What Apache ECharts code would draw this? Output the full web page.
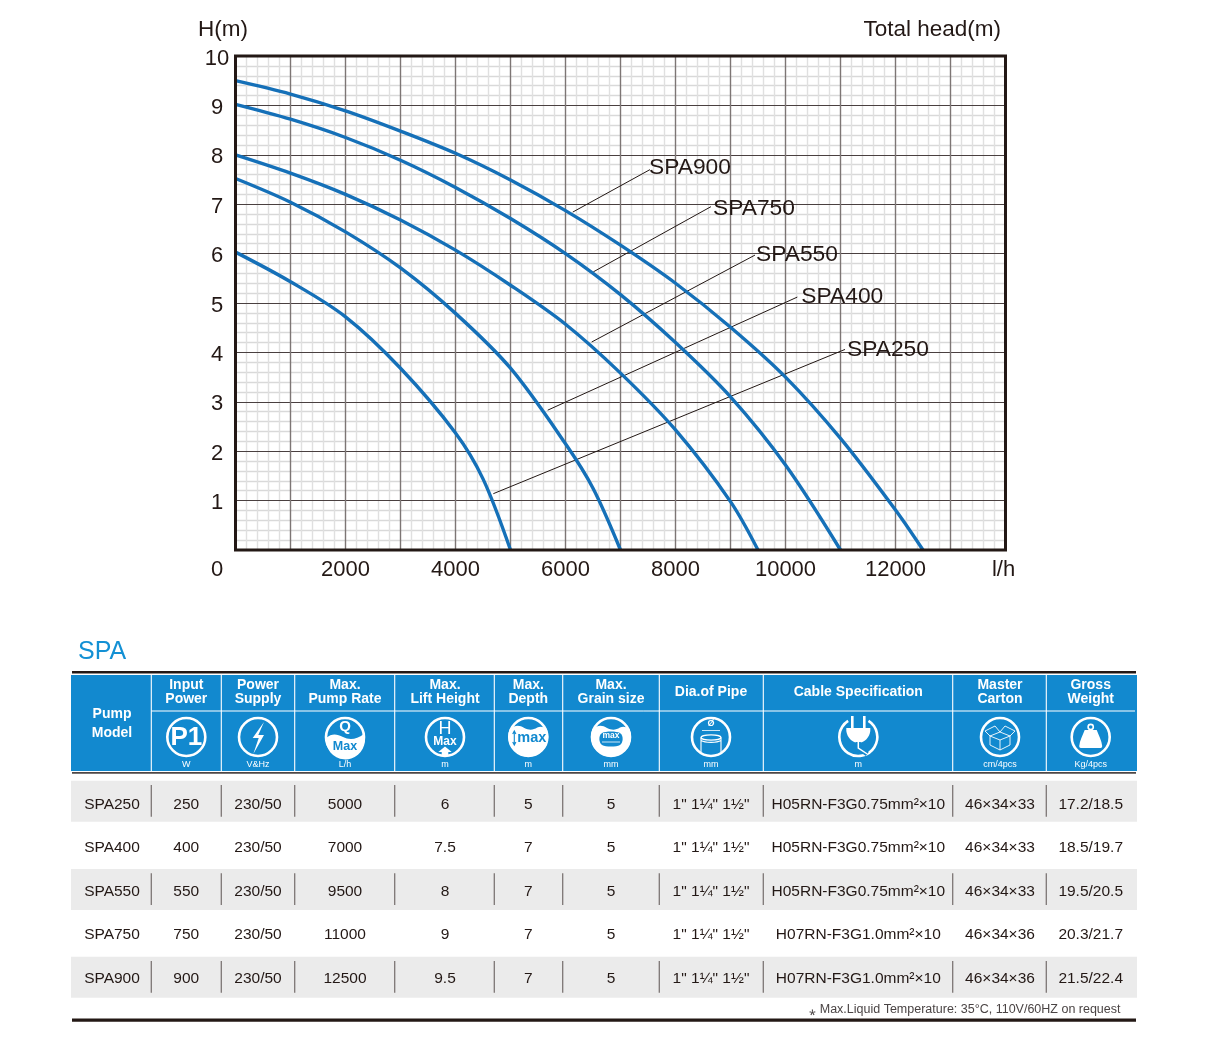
<!DOCTYPE html>
<html lang="en">

<head>
    <meta charset="UTF-8">
    <title>SPA pump curves</title>
    <script src="https://cdn.jsdelivr.net/npm/echarts@6/dist/echarts.min.js"></script>
    <style>
        body {
            margin: 0;
            padding: 0;
            background: #fff;
        }
    </style>
</head>

<body>
    <div id="chart" style="width:1209px;height:1040px;"></div>
    <script>
        // curve readings: flow in l/h, head in m
        var spa250Flow = [0, 1000, 2000, 3000, 4000, 4500, 5000];
        var spa250Head = [6.03, 5.43, 4.72, 3.68, 2.37, 1.44, 0];
        var spa400Flow = [0, 1000, 2000, 3000, 4000, 5000, 6000, 6500, 7000];
        var spa400Head = [7.52, 7.04, 6.44, 5.71, 4.79, 3.68, 2.15, 1.25, 0];
        var spa550Flow = [0, 1000, 2000, 3000, 4000, 5000, 6000, 7000, 8000, 9000, 9500];
        var spa550Head = [8, 7.63, 7.2, 6.68, 6.07, 5.36, 4.57, 3.58, 2.43, 0.98, 0];
        var spa750Flow = [0, 1000, 2000, 3000, 4000, 5000, 6000, 7000, 8000, 9000, 10000, 11000];
        var spa750Head = [9.02, 8.72, 8.35, 7.89, 7.34, 6.71, 6, 5.17, 4.2, 3.1, 1.72, 0];
        var spa900Flow = [0, 1000, 2000, 3000, 4000, 5000, 6000, 7000, 8000, 9000, 10000, 11000, 12000, 12500];
        var spa900Head = [9.5, 9.23, 8.89, 8.48, 8.03, 7.49, 6.87, 6.17, 5.4, 4.51, 3.5, 2.26, 0.81, 0];

        var curveNames = ['SPA250', 'SPA400', 'SPA550', 'SPA750', 'SPA900'];
        var curveFlows = [spa250Flow, spa400Flow, spa550Flow, spa750Flow, spa900Flow];
        var curveHeads = [spa250Head, spa400Head, spa550Head, spa750Head, spa900Head];

        // leader lines from a curve out to its name
        var leaderFlows = [[4688, 11082], [5676, 10215], [6476, 9445], [6505, 8645], [6131, 7536]];
        var leaderHeads = [[1.14, 4.06], [2.83, 5.12], [4.21, 5.97], [5.63, 6.95], [6.84, 7.7]];

        var xTickLabels = [2000, 4000, 6000, 8000, 10000, 12000];
        var yTickLabels = [1, 2, 3, 4, 5, 6, 7, 8, 9, 10];

        // table
        var pumpModels = ['SPA250', 'SPA400', 'SPA550', 'SPA750', 'SPA900'];
        var inputPower = ['250', '400', '550', '750', '900'];
        var powerSupply = ['230/50', '230/50', '230/50', '230/50', '230/50'];
        var pumpRate = ['5000', '7000', '9500', '11000', '12500'];
        var liftHeight = ['6', '7.5', '8', '9', '9.5'];
        var maxDepth = ['5', '7', '7', '7', '7'];
        var grainSize = ['5', '5', '5', '5', '5'];
        var pipeDia = ['1" 1¼" 1½"', '1" 1¼" 1½"', '1" 1¼" 1½"', '1" 1¼" 1½"', '1" 1¼" 1½"'];
        var cableSpec = ['H05RN-F3G0.75mm²×10', 'H05RN-F3G0.75mm²×10', 'H05RN-F3G0.75mm²×10', 'H07RN-F3G1.0mm²×10', 'H07RN-F3G1.0mm²×10'];
        var masterCarton = ['46×34×33', '46×34×33', '46×34×33', '46×34×36', '46×34×36'];
        var grossWeight = ['17.2/18.5', '18.5/19.7', '19.5/20.5', '20.3/21.7', '21.5/22.4'];

        var tableColumns = [pumpModels, inputPower, powerSupply, pumpRate, liftHeight, maxDepth, grainSize, pipeDia, cableSpec, masterCarton, grossWeight];
        var headerLines = [['Pump', 'Model'], ['Input', 'Power'], ['Power', 'Supply'], ['Max.', 'Pump Rate'], ['Max.', 'Lift Height'], ['Max.', 'Depth'], ['Max.', 'Grain size'], ['Dia.of Pipe'], ['Cable Specification'], ['Master', 'Carton'], ['Gross', 'Weight']];
        var headerUnits = ['', 'W', 'V&Hz', 'L/h', 'm', 'm', 'mm', 'mm', 'm', 'cm/4pcs', 'Kg/4pcs'];
        var footNote = '⁎ Max.Liquid Temperature: 35°C, 110V/60HZ on request';

        // layout
        var plotLeft = 235.5, plotTop = 56, plotWidth = 770, plotHeight = 494;
        var colCenters = [112, 186.3, 258, 345, 445, 528.3, 611, 711, 858.3, 1000, 1090.7];
        var colLines = [151.3, 221.3, 294.7, 394.7, 494.3, 562.7, 659.3, 763.3, 952.7, 1046.3];
        var rowCenters = [805, 848, 891.4, 935, 979];
        var bandTops = [780.7, 869, 956.7];
        var labelOffsets = [[2, 0], [4, 0], [1, 0], [2, 2], [-1, -2]];

        var inkColor = '#231815';
        var blue = '#1289cf';
        var white = '#fff';
        var fontName = '"Liberation Sans", Arial, sans-serif';

        function txt(str, x, y, size, color, bold, align) {
            return {
                type: 'text',
                silent: true,
                style: {
                    text: str,
                    x: x,
                    y: y,
                    fill: color,
                    font: (bold ? 'bold ' : '') + size + 'px ' + fontName,
                    align: align || 'center',
                    verticalAlign: 'middle'
                }
            };
        }

        function box(x, y, w, h, color) {
            return { type: 'rect', silent: true, shape: { x: x, y: y, width: w, height: h }, style: { fill: color } };
        }

        function seg(x1, y1, x2, y2, color, width) {
            return { type: 'line', silent: true, shape: { x1: x1, y1: y1, x2: x2, y2: y2 }, style: { stroke: color, lineWidth: width } };
        }

        function ring(cx, cy) {
            return { type: 'circle', silent: true, shape: { cx: cx, cy: cy, r: 19 }, style: { fill: 'none', stroke: white, lineWidth: 2.6 } };
        }

        // graphic has no plain path element, so each svg path gets its own registered shape
        var glyphCount = 0;

        // path given relative to the icon centre
        function glyph(d, cx, cy, fill, stroke, width) {
            var shapeName = 'glyph' + (glyphCount++);
            echarts.graphic.registerShape(shapeName, echarts.graphic.extendPath(d));
            return {
                type: shapeName,
                silent: true,
                x: cx,
                y: cy,
                style: { fill: fill || 'none', stroke: stroke || 'none', lineWidth: width || 1 }
            };
        }

        // white water body under a wavy surface, used by two icons
        var waterPath = 'M-18.5,-8 C-13,-12 -9,-12 -4,-9 C1,-6.5 5,-7 9,-9.5 C12,-11 15,-10.5 18.5,-8 A20,20 0 1 1 -18.5,-8 Z';

        function tableGraphics() {
            var els = [];
            els.push(txt('SPA', 78, 652, 25, '#1390d4', false, 'left'));
            els.push(box(72, 671, 1064, 2.6, inkColor));
            els.push(box(71, 675, 1066, 96, blue));
            els.push(box(72, 772, 1064, 1.8, '#4d4746'));
            els.push(seg(151.3, 711, 1135, 711, white, 1));
            colLines.forEach(function (x) {
                els.push(seg(x, 675, x, 771, white, 1.1));
            });

            // header text
            headerLines.forEach(function (lines, c) {
                var cx = colCenters[c];
                if (lines.length == 1) {
                    els.push(txt(lines[0], cx, 692, 14, white, true));
                } else if (c == 0) {
                    els.push(txt(lines[0], cx, 714, 14, white, true));
                    els.push(txt(lines[1], cx, 733, 14, white, true));
                } else {
                    els.push(txt(lines[0], cx, 685.3, 14, white, true));
                    els.push(txt(lines[1], cx, 699.3, 14, white, true));
                }
                if (headerUnits[c]) {
                    els.push(txt(headerUnits[c], cx, 765, 9, white, false));
                }
            });

            var iy = 737;
            var cx = colCenters[1];
            // P1
            els.push(ring(cx, iy));
            els.push(txt('P1', cx, iy + 1, 26, white, true));
            // supply
            cx = colCenters[2];
            els.push(ring(cx, iy));
            els.push(glyph('M6,-15 L-5.3,1 L0.7,1 L-4.7,17 L6,-2 L0.3,-2 Z', cx, iy, white));
            // pump rate
            cx = colCenters[3];
            els.push(ring(cx, iy));
            els.push(glyph('M-19,1 C-13,-4 -8,-3 -2,0 C4,3 11,3 19,-3 A19.5,19.5 0 1 1 -19,1 Z', cx, iy, white));
            els.push(txt('Q', cx, iy - 10, 15, white, true));
            els.push(txt('Max', cx, iy + 9.5, 12.5, blue, true));
            // lift height
            cx = colCenters[4];
            els.push(ring(cx, iy));
            els.push(txt('H', cx, iy - 8, 18, white, false));
            els.push(txt('Max', cx, iy + 4.8, 12, white, true));
            els.push(glyph('M0,9.5 L-6.7,15 L-3.3,15 L-3.3,19 L3.3,19 L3.3,15 L6.7,15 Z', cx, iy, white));
            // depth
            cx = colCenters[5];
            els.push(ring(cx, iy));
            els.push(glyph(waterPath, cx, iy, white));
            els.push(txt('max', cx + 3.5, iy + 1, 14.5, blue, true));
            els.push(glyph('M-14,-5 L-14,7 M-15.6,-3 L-14,-6 L-12.4,-3 M-15.6,5 L-14,8 L-12.4,5', cx, iy, 'none', blue, 1.1));
            // grain size
            cx = colCenters[6];
            els.push(ring(cx, iy));
            els.push(glyph(waterPath, cx, iy, white));
            els.push(glyph('M-9,-5 C-5,-7 5,-7 9,-5 C13,-2 12,5 9,7 C5,9 -5,9 -9,7 C-12,5 -13,-2 -9,-5 Z', cx, iy + 1, blue));
            els.push(txt('max', cx, iy - 1.5, 8.5, white, true));
            els.push(seg(cx - 9, iy + 5, cx + 9, iy + 5, white, 0.8));
            // pipe
            cx = colCenters[7];
            els.push(ring(cx, iy));
            els.push(txt('Ø', cx, iy - 13.5, 9, white, true));
            els.push(seg(cx - 9, iy - 6.5, cx + 9, iy - 6.5, white, 0.8));
            els.push({ type: 'ellipse', silent: true, shape: { cx: cx, cy: iy + 0.5, rx: 10, ry: 2.6 }, style: { fill: 'none', stroke: white, lineWidth: 1.2 } });
            els.push(glyph('M-10,0.5 L-10,15 M10,0.5 L10,15 M-10,3.5 C-6,6 6,6 10,3.5', cx, iy, 'none', white, 1.1));
            // cable
            cx = colCenters[8];
            els.push({ type: 'arc', silent: true, shape: { cx: cx, cy: iy, r: 19, startAngle: -Math.PI * 0.32, endAngle: -Math.PI * 0.68, clockwise: true }, style: { fill: 'none', stroke: white, lineWidth: 2.6 } });
            els.push(glyph('M-7,-21 L-7,-9 M5,-21 L5,-9', cx + 1, iy, 'none', white, 2.6));
            els.push(glyph('M-12,-9 L12,-9 L12,-6 C11,1 6,5 2,5.5 L-2,5.5 C-6,5 -11,1 -12,-6 Z', cx, iy, white));
            els.push(glyph('M0,5 L0,11 L9,17', cx, iy, 'none', blue, 5));
            els.push(glyph('M0,5 L0,11 L9,17', cx, iy, 'none', white, 1.5));
            // carton
            cx = colCenters[9];
            els.push(ring(cx, iy));
            els.push(glyph('M-10,-1 L-10,8 L0,13 L10,8 L10,-1 M0,3 L0,13 M-10,-1 L0,3 L10,-1 L0,-5 Z M-10,-1 L-15,-6 L-5,-11 L0,-5 L5,-11 L15,-6 L10,-1', cx, iy, 'none', white, 0.9));
            // weight
            cx = colCenters[10];
            els.push(ring(cx, iy));
            els.push(glyph('M-6,-7 L6,-7 C8,-2 11,4 11.5,9 C11.5,11 10,11 9,11 L-9,11 C-10,11 -11.5,11 -11.5,9 C-11,4 -8,-2 -6,-7 Z', cx, iy, white));
            els.push({ type: 'circle', silent: true, shape: { cx: cx, cy: iy - 10, r: 2.6 }, style: { fill: 'none', stroke: white, lineWidth: 1.6 } });

            // grey bands and their separators
            bandTops.forEach(function (top) {
                els.push(box(71, top, 1066, 41, '#ebebeb'));
                colLines.forEach(function (x) {
                    els.push(seg(x, top + 4.3, x, top + 36, '#7d7675', 1.3));
                });
            });

            // body rows
            rowCenters.forEach(function (rowY, r) {
                tableColumns.forEach(function (col, c) {
                    els.push(txt(col[r], colCenters[c], rowY, 15.5, inkColor, false));
                });
            });

            els.push(txt(footNote, 1120.5, 1009.5, 12.5, '#4a4444', false, 'right'));
            els.push(box(72, 1018.5, 1064, 3.2, inkColor));
            return els;
        }

        // frame goes above the grid lines so they do not nick it
        var plotFrame = {
            type: 'rect',
            silent: true,
            z: 10,
            shape: { x: plotLeft, y: plotTop, width: plotWidth, height: plotHeight },
            style: { fill: 'none', stroke: inkColor, lineWidth: 3 }
        };

        var axisGraphics = [
            plotFrame,
            txt('H(m)', 198, 30, 22.5, inkColor, false, 'left'),
            txt('Total head(m)', 1001, 30, 22.5, inkColor, false, 'right'),
            txt('0', 217, 570, 22, inkColor, false),
            txt('l/h', 1003.5, 570, 22, inkColor, false)
        ];

        var series = [];
        curveNames.forEach(function (name, i) {
            series.push({
                name: name + ' leader',
                type: 'line',
                silent: true,
                showSymbol: false,
                z: 3,
                lineStyle: { color: inkColor, width: 1 },
                data: leaderFlows[i].map(function (f, k) { return [f, leaderHeads[i][k]]; }),
                endLabel: {
                    show: true,
                    formatter: name,
                    fontSize: 22.8,
                    fontFamily: fontName,
                    color: inkColor,
                    distance: 0,
                    offset: labelOffsets[i]
                }
            });
        });
        curveNames.forEach(function (name, i) {
            series.push({
                name: name,
                type: 'line',
                silent: true,
                smooth: 0.33,
                showSymbol: false,
                z: 4,
                lineStyle: { color: '#1570b8', width: 3.4 },
                data: curveFlows[i].map(function (f, k) { return [f, curveHeads[i][k]]; })
            });
        });

        var myChart = echarts.init(document.getElementById('chart'));
        myChart.setOption({
            animation: false,
            grid: {
                show: true,
                left: plotLeft,
                top: plotTop,
                width: plotWidth,
                height: plotHeight,
                backgroundColor: '#fff',
                borderWidth: 0
            },
            // second axis of each pair only draws the light minor lines, under the major ones
            xAxis: [{
                type: 'value',
                min: 0,
                max: 14000,
                interval: 1000,
                z: 2,
                axisLine: { show: false },
                axisTick: { show: false },
                axisLabel: {
                    fontSize: 22,
                    fontFamily: fontName,
                    color: inkColor,
                    margin: 9,
                    formatter: function (v) {
                        return xTickLabels.indexOf(v) >= 0 ? String(v) : '';
                    }
                },
                splitLine: { show: true, showMinLine: false, showMaxLine: false, lineStyle: { color: '#7d7675', width: 1.4 } }
            }, {
                type: 'value',
                position: 'bottom',
                min: 0,
                max: 14000,
                interval: 1000,
                z: 1,
                axisLine: { show: false },
                axisTick: { show: false },
                axisLabel: { show: false },
                splitLine: { show: false },
                minorTick: { show: false, splitNumber: 5 },
                minorSplitLine: { show: true, lineStyle: { color: '#e0e0e0', width: 1.4 } }
            }],
            yAxis: [{
                type: 'value',
                min: 0,
                max: 10,
                interval: 1,
                z: 2,
                axisLine: { show: false },
                axisTick: { show: false },
                axisLabel: {
                    fontSize: 22,
                    fontFamily: fontName,
                    color: inkColor,
                    margin: 18.5,
                    align: 'center',
                    verticalAlign: 'top',
                    lineHeight: 5,
                    formatter: function (v) {
                        return yTickLabels.indexOf(v) >= 0 ? String(v) : '';
                    }
                },
                splitLine: { show: true, showMinLine: false, showMaxLine: false, lineStyle: { color: '#4a4040', width: 1 } }
            }, {
                type: 'value',
                position: 'left',
                min: 0,
                max: 10,
                interval: 1,
                z: 1,
                axisLine: { show: false },
                axisTick: { show: false },
                axisLabel: { show: false },
                splitLine: { show: false },
                minorTick: { show: false, splitNumber: 5 },
                minorSplitLine: { show: true, lineStyle: { color: '#d9d9d9', width: 1.4 } }
            }],
            series: series,
            graphic: { elements: axisGraphics.concat(tableGraphics()) }
        });
    </script>
</body>

</html>
